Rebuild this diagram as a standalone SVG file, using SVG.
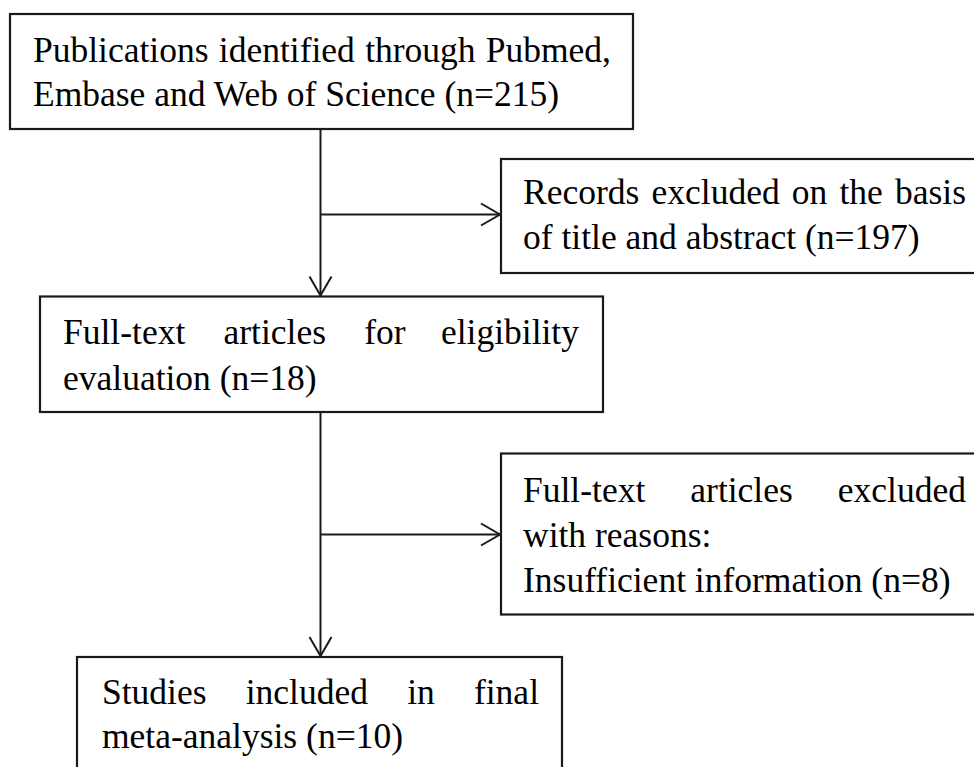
<svg xmlns="http://www.w3.org/2000/svg" width="974" height="767" viewBox="0 0 974 767">
<defs>
<style>
.box{fill:#fff;stroke:#1a1a1a;stroke-width:2.2}
.t{font-family:"Liberation Serif","Times New Roman",serif;font-size:35.5px;fill:#000}
.e{text-anchor:end}
.c{fill:none;stroke:#1a1a1a;stroke-width:2}
</style>
<marker id="arr" markerUnits="userSpaceOnUse" viewBox="-22 -13 24 26" refX="0" refY="0" markerWidth="24" markerHeight="26" orient="auto" overflow="visible">
<path d="M-19,-11 L0,0 L-19,11" fill="none" stroke="#1a1a1a" stroke-width="2"/>
</marker>
</defs>
<rect width="974" height="767" fill="#fff"/>
<g id="connectors">
<line class="c" x1="320.5" y1="129" x2="320.5" y2="295.5" marker-end="url(#arr)"/>
<line class="c" x1="320.5" y1="214.5" x2="500" y2="214.5" marker-end="url(#arr)"/>
<line class="c" x1="320.5" y1="412" x2="320.5" y2="656" marker-end="url(#arr)"/>
<line class="c" x1="320.5" y1="534.5" x2="500" y2="534.5" marker-end="url(#arr)"/>
</g>
<g id="node-identified">
<rect class="box" x="10" y="14" width="623" height="115"/>
<text class="t" y="62"><tspan x="33">Publications</tspan><tspan x="218.8">identified</tspan><tspan x="365.2">through</tspan><tspan x="611" class="e" text-anchor="end">Pubmed,</tspan></text>
<text class="t" x="33" y="106">Embase and Web of Science (n=215)</text>
</g>
<g id="node-excluded-title">
<rect class="box" x="501" y="159" width="489" height="114"/>
<text class="t" y="203.5"><tspan x="523">Records</tspan><tspan x="651.5">excluded</tspan><tspan x="791.8">on</tspan><tspan x="839.5">the</tspan><tspan x="966" text-anchor="end">basis</tspan></text>
<text class="t" x="523" y="249">of title and abstract (n=197)</text>
</g>
<g id="node-fulltext">
<rect class="box" x="40" y="296.5" width="563" height="115.5"/>
<text class="t" y="343.5"><tspan x="63">Full-text</tspan><tspan x="223.5">articles</tspan><tspan x="364.2">for</tspan><tspan x="579" text-anchor="end">eligibility</tspan></text>
<text class="t" x="63" y="389.5">evaluation (n=18)</text>
</g>
<g id="node-excluded-fulltext">
<rect class="box" x="501" y="453.5" width="489" height="161"/>
<text class="t" y="502"><tspan x="523">Full-text</tspan><tspan x="690.3">articles</tspan><tspan x="966" text-anchor="end">excluded</tspan></text>
<text class="t" x="523" y="546.5">with reasons:</text>
<text class="t" x="523" y="591.5">Insufficient information (n=8)</text>
</g>
<g id="node-included">
<rect class="box" x="77" y="657" width="485" height="130"/>
<text class="t" y="703.5"><tspan x="102">Studies</tspan><tspan x="245.7">included</tspan><tspan x="407.2">in</tspan><tspan x="539" text-anchor="end">final</tspan></text>
<text class="t" x="102" y="748">meta-analysis (n=10)</text>
</g>
</svg>
